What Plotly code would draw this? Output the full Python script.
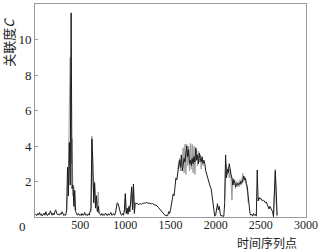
import plotly.graph_objects as go

# ---- data: black series (time index step 10) ----
x_start = 0
x_step = 10
black_y = [
    # 0-330
    0.1, 0.15, 0.08, 0.2, 0.12, 0.25, 0.1, 0.18, 0.06, 0.15,
    0.22, 0.1, 0.3, 0.12, 0.08, 0.2, 0.14, 0.35, 0.15, 0.1,
    0.22, 0.12, 0.3, 0.4, 0.2, 0.12, 0.18, 0.1, 0.2, 0.15,
    0.3, 0.12, 0.08, 0.15,
    # 340-470
    0.1, 0.4, 2.8, 1.2, 4.2, 1.8, 11.5, 1.6, 1.8, 0.6, 1.5, 0.3, 0.15, 0.1,
    # 480-610
    0.2, 0.1, 0.15, 0.08, 0.2, 0.1, 0.12, 0.25, 0.1, 0.15, 0.08, 0.18, 0.1, 0.3,
    # 620-720
    0.5, 4.4, 3.2, 0.8, 1.9, 0.5, 1.2, 0.3, 0.6, 0.2, 0.15,
    # 730-880
    0.1, 0.2, 0.08, 0.15, 0.1, 0.22, 0.12, 0.08, 0.18, 0.1, 0.15, 0.25, 0.1, 0.12, 0.2, 0.1,
    # 890-960
    0.2, 0.5, 0.8, 0.75, 0.5, 0.3, 0.15, 0.1,
    # 970-1120
    0.2, 0.1, 0.4, 1.3, 0.2, 0.5, 0.15, 0.6, 0.3, 1.0, 1.7, 0.4, 1.85, 0.2, 0.8, 0.75,
    # 1130-1490
    0.78, 0.72, 0.7, 0.74, 0.76, 0.72, 0.73, 0.78, 0.8, 0.77,
    0.8, 0.82, 0.79, 0.76, 0.78, 0.75, 0.74, 0.76, 0.72, 0.7,
    0.66, 0.68, 0.64, 0.58, 0.52, 0.45, 0.4, 0.3, 0.25, 0.2,
    0.15, 0.08, 0.12, 0.05, 0.1, 0.3, 0.2,
    # 1500-1980
    0.4, 0.9, 1.0, 1.3, 1.2, 1.7, 2.2, 2.1, 2.6, 2.9,
    3.2, 2.8, 3.5, 2.6, 2.9, 3.3, 3.1, 3.6, 4.0, 3.4,
    3.8, 3.0, 3.2, 2.9, 3.3, 3.0, 3.4, 3.1, 3.9, 3.2,
    3.5, 3.0, 3.6, 3.3, 3.1, 3.4, 3.0, 3.2, 3.0, 2.6,
    2.4, 2.2, 2.1, 1.9, 1.7, 1.6, 1.2, 0.9, 0.3,
    # 1990-2080
    0.05, 0.1, 0.5, 0.75, 0.4, 0.6, 0.2, 0.05, 0.1, 0.02,
    # 2090-2350
    0.05, 0.8, 3.5, 2.2, 2.7, 2.5, 3.0, 2.6, 2.4, 2.2,
    1.8, 2.1, 2.0, 1.7, 1.8, 1.9, 1.8, 1.9, 1.85, 2.0,
    1.9, 2.1, 2.3, 2.1, 2.2, 1.9, 1.7,
    # 2360-2450
    1.2, 0.6, 0.2, 0.1, 0.15, 0.05, 0.2, 0.1, 0.15, 0.05,
    # 2460-2680
    2.65, 0.9, 1.1, 1.0, 1.05, 0.95, 0.9, 0.95, 0.85, 0.8,
    0.85, 0.7, 0.65, 0.45, 0.6, 0.5, 0.35, 0.3, 0.02, 1.2,
    2.6, 1.5, 0.1,
]
black_x = [x_start + i * x_step for i in range(len(black_y))]

# ---- data: grey series (segments where it deviates from the black one) ----
grey_x = [
    350, 360, 370, 380, 390, 400, 410, 420, 430, 440, None,
    620, 630, 640, 650, 660, 670, 680, 690, 700, 710, None,
    990, 1000, 1010, 1020, 1030, 1040, 1050, 1060, 1070, 1080, 1090, 1100, None,
    1580, 1590, 1600, 1610, 1620, 1630, 1640, 1650, 1660, 1670,
    1680, 1690, 1700, 1710, 1720, 1730, 1740, 1750, 1760, 1770,
    1780, 1790, 1800, 1810, 1820, 1830, 1840, 1850, 1860, 1870, None,
    2100, 2110, 2120, 2130, 2140, 2150, 2160, 2170, 2180, 2190,
    2200, 2210, 2220, 2230, 2240, 2250, 2260, 2270, 2280, 2290,
    2300, 2310, 2320, 2330, 2340, 2350, 2360, None,
    2640, 2650, 2660, 2670, 2680,
]
grey_y = [
    0.3, 1.5, 2.2, 6.1, 9.0, 3.0, 4.4, 1.2, 1.7, 0.4, None,
    0.3, 4.56, 2.0, 1.0, 2.0, 0.6, 0.9, 0.4, 1.4, 0.2, None,
    0.3, 1.35, 0.3, 0.2, 0.4, 0.3, 0.6, 0.8, 1.6, 0.5, 1.8, 0.5, None,
    2.7, 3.0, 3.3, 2.6, 3.2, 2.9, 3.9, 2.5, 4.1, 2.4,
    4.1, 2.9, 4.0, 2.6, 4.15, 2.7, 4.1, 2.5, 4.0, 2.4,
    3.6, 3.8, 2.9, 3.7, 3.1, 3.5, 2.7, 3.2, 2.9, 2.9, None,
    1.0, 3.0, 2.9, 2.4, 2.8, 2.2, 2.7, 2.1, 0.95, 2.2,
    1.8, 2.1, 1.6, 2.0, 1.7, 2.0, 1.7, 2.1, 1.8, 2.3,
    2.45, 2.0, 2.3, 1.9, 1.8, 1.5, 0.8, None,
    0.1, 1.8, 2.7, 0.8, 0.05,
]

y_ticks = [2, 4, 6, 8, 10, 12]
x_ticks = [500, 1000, 1500, 2000, 2500, 3000]
x_title = "时间序列点"
y_title = "关联度<i>C</i>"

num_font = dict(family="Liberation Serif, DejaVu Serif, serif", size=13, color="#222")
xnum_font = dict(family="Liberation Serif, DejaVu Serif, serif", size=12, color="#222")
cjk_family = "Noto Sans CJK SC, sans-serif"

fig = go.Figure()
fig.add_trace(go.Scatter(x=grey_x, y=grey_y, mode="lines",
                         line=dict(color="#9a9a9a", width=1), connectgaps=False,
                         showlegend=False, hoverinfo="skip"))
fig.add_trace(go.Scatter(x=black_x, y=black_y, mode="lines",
                         line=dict(color="#1c1c1c", width=1),
                         showlegend=False, hoverinfo="skip"))

fig.update_layout(
    width=322, height=250,
    margin=dict(l=35, r=16, t=4, b=33),
    paper_bgcolor="white", plot_bgcolor="white",
    font=num_font,
    xaxis=dict(range=[0, 3000], tickvals=x_ticks, ticktext=[str(v) for v in x_ticks],
               showgrid=False, zeroline=False, showline=True, linecolor="#9a9a9a",
               linewidth=1, mirror=True, ticks="", tickfont=xnum_font,
               ticklabelstandoff=-3),
    yaxis=dict(range=[0, 12], tickvals=y_ticks, ticktext=[str(v) for v in y_ticks],
               showgrid=False, zeroline=False, showline=True, linecolor="#9a9a9a",
               linewidth=1, mirror=True, ticks="inside", ticklen=3, tickcolor="#9a9a9a",
               tickfont=num_font),
    annotations=[
        dict(text="0", xref="paper", yref="paper", x=-0.025, y=-0.045,
             xanchor="right", yanchor="middle", showarrow=False, font=num_font),
        dict(text=x_title, xref="paper", yref="paper", x=0.855, y=-0.122,
             xanchor="center", yanchor="middle", showarrow=False,
             font=dict(family=cjk_family, size=12, color="#222")),
        dict(text=y_title, xref="paper", yref="paper", x=-0.098, y=0.82,
             xanchor="center", yanchor="middle", textangle=-90, showarrow=False,
             font=dict(family="Noto Sans CJK SC, Liberation Serif, serif", size=13, color="#222")),
    ],
)

fig.write_html("out.html")
